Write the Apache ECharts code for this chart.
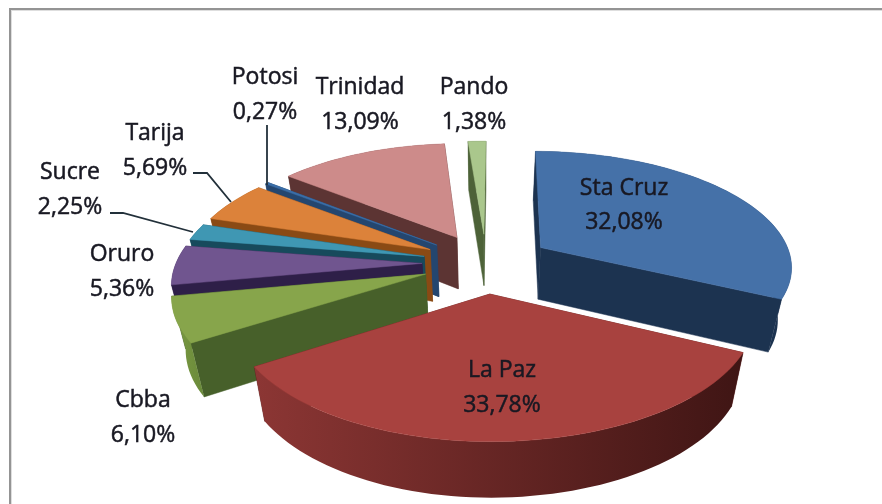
<!DOCTYPE html>
<html><head><meta charset="utf-8">
<style>html,body{margin:0;padding:0;background:#fff}#c{width:882px;height:504px}</style>
<script src="https://cdn.jsdelivr.net/npm/echarts@6/dist/echarts.min.js"></script>
</head><body><div id="c"></div>
<script>
const categories = ['Sta Cruz','La Paz','Cbba','Oruro','Sucre','Tarija','Potosi','Trinidad','Pando'];
const values = [32.08,33.78,6.10,5.36,2.25,5.69,0.27,13.09,1.38];

// appearance of each slice, in category order: top, radial face, outer wall (left, right)
const topColors  = ['#4571a8','#a8423f','#87a54b','#70558f','#3f97b3','#dc823a','#3b6ea8','#cd8b8a','#aac78c'];
const faceColors = ['#1c3350','#5a1d1c','#47602a','#2e1f48','#174a5c','#8a4a14','#24466f','#5c3433','#4d6238'];
const wallLeft   = ['#1c3350','#8c3634','#7b9a43','#2e1f48','#174a5c','#8a4a14','#24466f','#5c3433','#4d6238'];
const wallRight  = ['#1c3350','#3f1514','#6a8a3a','#2e1f48','#174a5c','#8a4a14','#24466f','#5c3433','#4d6238'];
// label centres and leader lines (page layout)
const labelPos = [[624,188,222],[502,370,405],[143,400,435],[122,254,289],[70,172,207],[155,133,168],[265,77,112],[360,87,122],[474,87,122]];
const leaders = [
  [[267,125],[267,185]],
  [[193,173],[207,173],[231,202]],
  [[110,213],[123,213],[193,232]]
];

// projection of the tilted pie
const CX=486, CY=263, RX_RIGHT=252, RX_LEFT=246, RY=115, K=0.15, EXPLODE=0.26, DEPTH=52, BOTTOM=0.955, START=0.5;
const total = values.reduce((a,b)=>a+b,0);
const rad = d=>d*Math.PI/180;
function project(X,Y,low){
  const s = 1/(1-K*Y), rx = X<0 ? RX_LEFT : RX_RIGHT;
  if(!low) return [CX+rx*X*s, CY+RY*Y*s];
  return [CX+rx*X*s*BOTTOM, CY+RY*Y*s*BOTTOM+DEPTH*s];
}
let acc = START;
const slices = values.map((v,i)=>{
  const a0=acc, a1=acc+v/total*360; acc=a1;
  return {i,a0,a1,mid:(a0+a1)/2};
});
const drawOrder = slices.slice().sort((p,q)=>(-Math.cos(rad(p.mid)))-(-Math.cos(rad(q.mid))));

function poly(points,fill){
  return {type:'polygon',shape:{points},style:{fill,stroke:fill.type?null:fill,lineWidth:0.5}};
}
function renderSlice(params){
  const sl = drawOrder[params.dataIndex], i=sl.i;
  const ex=EXPLODE*Math.sin(rad(sl.mid)), ey=-EXPLODE*Math.cos(rad(sl.mid));
  const pts=[];
  const n=Math.max(2,Math.ceil((sl.a1-sl.a0)/2));
  for(let j=0;j<=n;j++){
    const a=rad(sl.a0+(sl.a1-sl.a0)*j/n);
    pts.push([ex+Math.sin(a),ey-Math.cos(a)]);
  }
  const apexT=project(ex,ey,false), apexB=project(ex,ey,true);
  const top=pts.map(p=>project(p[0],p[1],false));
  const low=pts.map(p=>project(p[0],p[1],true));
  const face=(t,b)=>poly([apexT,t,b,apexB],faceColors[i]);
  const wallFill={type:'linear',x:0,y:0,x2:1,y2:0,colorStops:[{offset:0,color:wallLeft[i]},{offset:1,color:wallRight[i]}]};
  const wall=poly(top.concat(low.slice().reverse()),wallFill);
  const startFace={e:face(top[0],low[0]),d:pts[0][1]};
  const endFace={e:face(top[n],low[n]),d:pts[n][1]};
  const sides=[startFace,endFace].sort((a,b)=>a.d-b.d).map(o=>o.e);
  const backWall = Math.cos(rad(sl.mid))>0.2;
  const children = backWall ? [wall].concat(sides) : sides.concat([wall]);
  children.push(poly([apexT].concat(top),topColors[i]));
  return {type:'group',children};
}
const textStyle={fontFamily:'"Open Sans"',fontSize:23,fontWeight:500,fill:'#181822',stroke:'#181822',lineWidth:0.5,align:'center',verticalAlign:'middle'};
const graphic=[
  {type:'rect',shape:{x:9,y:8,width:873,height:2},style:{fill:'#949494'}},
  {type:'rect',shape:{x:9,y:8,width:2,height:496},style:{fill:'#949494'}},
  {type:'rect',shape:{x:11,y:10,width:871,height:1},style:{fill:'#dedede'}},
  {type:'rect',shape:{x:11,y:10,width:1,height:494},style:{fill:'#dedede'}}
];
leaders.forEach(points=>graphic.push({type:'polyline',z:10,shape:{points},style:{stroke:'#22303a',lineWidth:1.8,fill:null}}));
categories.forEach((c,i)=>{
  const p=labelPos[i];
  graphic.push({type:'text',z:11,x:p[0],y:p[1],style:Object.assign({text:c},textStyle)});
  graphic.push({type:'text',z:11,x:p[0],y:p[2],style:Object.assign({text:values[i].toFixed(2).replace('.',',')+'%'},textStyle)});
});
const chart=echarts.init(document.getElementById('c'),null,{renderer:'canvas'});
chart.setOption({
  animation:false,
  backgroundColor:'#ffffff',
  series:[{type:'custom',coordinateSystem:'none',silent:true,renderItem:renderSlice,
    data:drawOrder.map(s=>({name:categories[s.i],value:values[s.i]}))}],
  graphic
});
</script></body></html>
